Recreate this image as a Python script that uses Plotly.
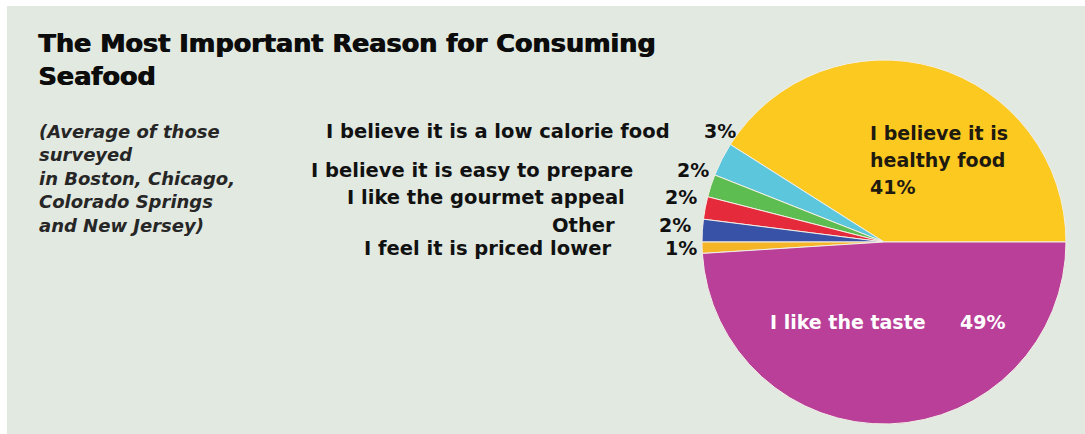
import plotly.graph_objects as go

# Survey answers, in drawing order (counter-clockwise from 3 o'clock)
reasons = [
    "I believe it is healthy food",
    "I believe it is a low calorie food",
    "I believe it is easy to prepare",
    "I like the gourmet appeal",
    "Other",
    "I feel it is priced lower",
    "I like the taste",
]
shares = [41, 3, 2, 2, 2, 1, 49]
slice_colors = ["#fcc920", "#5cc7dc", "#5dbd50", "#e52a3c", "#3852a8", "#f6b526", "#b93f99"]

W, H = 1085, 434
BG = "#e2e9e1"
FONT = "DejaVu Sans"

fig = go.Figure()

# Pie geometry in pixels
cx, cy, r = 884, 242, 182
# In counter-clockwise mode plotly lays the first slice clockwise from `rotation`,
# so shift the start so the first slice ends at 3 o'clock.
start = 90 - 360 * shares[0] / sum(shares)
fig.add_trace(go.Pie(
    labels=reasons,
    values=shares,
    sort=False,
    direction="counterclockwise",
    rotation=start,
    marker=dict(colors=slice_colors, line=dict(color="#f2efe6", width=1)),
    textinfo="none",
    hoverinfo="label+percent",
    showlegend=False,
    domain=dict(x=[(cx - r) / W, (cx + r) / W], y=[(H - cy - r) / H, (H - cy + r) / H]),
))

def px_x(x):
    return x / W

def px_y(y):
    return 1 - y / H

annotations = []

def add_text(x, y, text, size, color="#111111", anchor="left", italic=False,
             weight=700, valign="middle", shadow="none"):
    annotations.append(dict(
        x=px_x(x), y=px_y(y), xref="paper", yref="paper",
        text=text, showarrow=False, xanchor=anchor, yanchor=valign, align=anchor,
        font=dict(family=FONT, size=size, color=color, weight=weight, shadow=shadow,
                  style="italic" if italic else "normal"),
    ))

# Title (two lines), thickened with a tight offset shadow
add_text(36, 26, "The Most Important Reason for Consuming<br>Seafood", 25.5,
         color="#0c0c0c", valign="top", shadow="1px 0px 0px #0c0c0c")

# Sub-heading
sub_lines = ["(Average of those", "surveyed", "in Boston, Chicago,", "Colorado Springs", "and New Jersey)"]
add_text(37, 118.5, "<br>".join(sub_lines), 18, color="#262626", italic=True, valign="top")

# Labels for the small slices, listed to the left of the pie
label_rows = [
    (1, 131, 672, 702),
    (2, 170, 635, 675),
    (3, 197, 627, 663),
    (4, 225, 617, 657),
    (5, 248, 613, 663),
]
for idx, y, x_label, x_pct in label_rows:
    add_text(x_label, y, reasons[idx], 19.5, anchor="right")
    add_text(x_pct, y, f"{shares[idx]}%", 19)

# In-slice labels for the two large slices
add_text(868, 133, "I believe it is", 19, color="#1e1a10")
add_text(868, 160, "healthy food", 19, color="#1e1a10")
add_text(868, 187, f"{shares[0]}%", 19, color="#1e1a10")
add_text(768, 322, "I like the taste", 19, color="#ffffff")
add_text(958, 322, f"{shares[6]}%", 19, color="#ffffff")

# Thin white frame along the top and left edges
shapes = [
    dict(type="rect", xref="paper", yref="paper", x0=0, x1=1, y0=1 - 6 / H, y1=1,
         fillcolor="#ffffff", line=dict(width=0), layer="below"),
    dict(type="rect", xref="paper", yref="paper", x0=0, x1=7 / W, y0=0, y1=1,
         fillcolor="#ffffff", line=dict(width=0), layer="below"),
]

fig.update_layout(
    width=W, height=H,
    margin=dict(l=0, r=0, t=0, b=0),
    paper_bgcolor=BG,
    plot_bgcolor=BG,
    annotations=annotations,
    shapes=shapes,
    font=dict(family=FONT),
)

fig.write_html("out.html")
